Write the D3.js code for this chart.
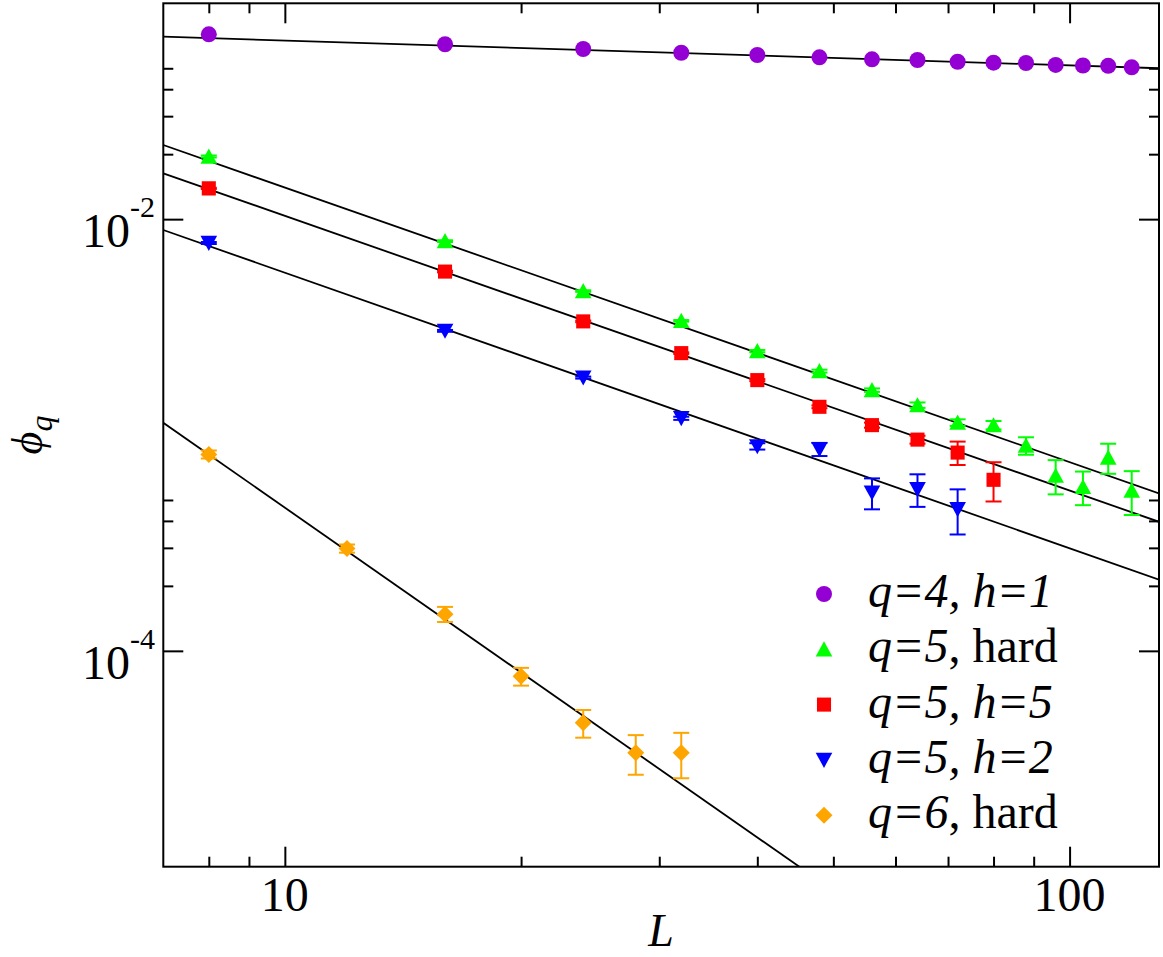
<!DOCTYPE html>
<html>
<head>
<meta charset="utf-8">
<script src="https://cdn.jsdelivr.net/npm/d3@7"></script>
<style>
  html, body { margin: 0; padding: 0; background: #fff; }
  svg { display: block; }
  text { font-family: "Liberation Serif", "Tinos", "DejaVu Serif", "Noto Serif", serif; fill: #000; }
</style>
</head>
<body>
<svg id="chart" width="1163" height="957"></svg>
<script>
// ---------------- data ----------------
const seriesNames = ["q4h1", "q5hard", "q5h5", "q5h2", "q6hard"];
const seriesColors = ["#9400d3", "#00ff00", "#ff0000", "#0000ff", "#ffa500"];
const seriesSymbols = ["circle", "triangleUp", "square", "triangleDown", "diamond"];

const L_q4h1 = [8, 16, 24, 32, 40, 48, 56, 64, 72, 80, 88, 96, 104, 112, 120];
const phi_q4h1 = [0.0718, 0.0646, 0.0614, 0.0590, 0.0576, 0.0562, 0.0550, 0.0546, 0.0536, 0.0531, 0.0529, 0.0518, 0.0515, 0.0513, 0.0505];
const err_q4h1 = [0, 0, 0, 0, 0, 0, 0, 0, 0, 0, 0, 0, 0, 0, 0];

const L_q5hard = [8, 16, 24, 32, 40, 48, 56, 64, 72, 80, 88, 96, 104, 112, 120];
const phi_q5hard = [0.01950, 0.007915, 0.004643, 0.003379, 0.002447, 0.001977, 0.001614, 0.001375, 0.001142, 0.001111, 0.000893, 0.000648, 0.000575, 0.000786, 0.000553];
const err_q5hard = [0.0002, 0.00008, 0.00004, 0.00003, 0.00003, 0.00003, 0.00003, 0.00004, 0.00004, 0.00005, 0.000083, 0.000117, 0.000102, 0.000125, 0.000127];

const L_q5h5 = [8, 16, 24, 32, 40, 48, 56, 64, 72, 80];
const phi_q5h5 = [0.01389, 0.005716, 0.003360, 0.002395, 0.001796, 0.001351, 0.001111, 0.000952, 0.000829, 0.000620];
const err_q5h5 = [0.0001, 0.00005, 0.00003, 0.00002, 0.00002, 0.00002, 0.00003, 0.00004, 0.000103, 0.000128];

const L_q5h2 = [8, 16, 24, 32, 40, 48, 56, 64, 72];
const phi_q5h2 = [0.007748, 0.003037, 0.001845, 0.001195, 0.000886, 0.000859, 0.000541, 0.000561, 0.000453];
const err_q5h2 = [0.00008, 0.00003, 0.00002, 0.00002, 0.00003, 0.00006, 0.0000885, 0.0000965, 0.000107];

const L_q6hard = [8, 12, 16, 20, 24, 28, 32];
const phi_q6hard = [0.000813, 0.000298, 0.0001479, 0.0000762, 0.0000464, 0.0000337, 0.0000337];
const err_q6hard = [0.000035, 0.000013, 0.0000119, 0.0000072, 0.0000068, 0.0000070, 0.0000080];

// power-law fits  phi = A * L^(-b)
const fitA = [0.0877, 0.2621, 0.1939, 0.1068, 0.1588];
const fitB = [0.1154, 1.2721, 1.2724, 1.2766, 2.5374];

// axes
const xDomain = [7, 130];
const yDomain = [1e-5, 1e-1];
const xMajorTicks = [10, 100];
const xMinorTicks = [8, 9, 20, 30, 40, 50, 60, 70, 80, 90];
const yMajorTicks = [1e-4, 1e-2];
const yMajorExp = ["-4", "-2"];
const yMinorTicks = [2e-4, 3e-4, 4e-4, 5e-4, 2e-2, 3e-2, 4e-2, 5e-2];

// legend labels: [text, italic?] parts
const legendLabels = [
  [["q=4, h=1", true]],
  [["q=5", true], [", hard", false]],
  [["q=5, h=5", true]],
  [["q=5, h=2", true]],
  [["q=6", true], [", hard", false]]
];

const allL = [L_q4h1, L_q5hard, L_q5h5, L_q5h2, L_q6hard];
const allPhi = [phi_q4h1, phi_q5hard, phi_q5h5, phi_q5h2, phi_q6hard];
const allErr = [err_q4h1, err_q5hard, err_q5h5, err_q5h2, err_q6hard];

// ---------------- layout ----------------
const plot = { left: 163.3, right: 1159, top: 3.3, bottom: 866.7 };
const svg = d3.select("#chart");

const x = d3.scaleLog().domain(xDomain).range([plot.left, plot.right]);
const y = d3.scaleLog().domain(yDomain).range([plot.bottom, plot.top]);

svg.append("defs").append("clipPath").attr("id", "clip")
  .append("rect").attr("x", plot.left).attr("y", plot.top)
  .attr("width", plot.right - plot.left).attr("height", plot.bottom - plot.top);

// symbol paths (centered at origin)
function symbolPath(type, s) {
  const p = d3.path();
  if (type === "circle") { p.arc(0, 0, s * 0.5, 0, 2 * Math.PI); }
  else if (type === "triangleUp") { p.moveTo(0, -s * 0.5); p.lineTo(s * 0.52, s * 0.45); p.lineTo(-s * 0.52, s * 0.45); p.closePath(); }
  else if (type === "triangleDown") { p.moveTo(0, s * 0.5); p.lineTo(s * 0.52, -s * 0.45); p.lineTo(-s * 0.52, -s * 0.45); p.closePath(); }
  else if (type === "square") { const h = s * 0.44; p.rect(-h, -h, 2 * h, 2 * h); }
  else if (type === "diamond") { const h = s * 0.53; p.moveTo(0, -h); p.lineTo(h, 0); p.lineTo(0, h); p.lineTo(-h, 0); p.closePath(); }
  return p.toString();
}
const symSize = 16;

// ---------------- fit lines ----------------
const fitG = svg.append("g").attr("clip-path", "url(#clip)");
const line = d3.line().x(d => x(d[0])).y(d => y(d[1]));
fitA.forEach((A, i) => {
  const b = fitB[i];
  const pts = x.domain().map(L => [L, A * Math.pow(L, -b)]);
  fitG.append("path").attr("d", line(pts))
    .attr("fill", "none").attr("stroke", "#000").attr("stroke-width", 1.8);
});

// ---------------- data ----------------
const dataG = svg.append("g").attr("clip-path", "url(#clip)");
allL.forEach((Ls, i) => {
  const col = seriesColors[i];
  const pts = Ls.map((L, j) => ({ L, v: allPhi[i][j], e: allErr[i][j] }));
  const g = dataG.append("g");
  // error bars
  pts.filter(d => d.e > 0).forEach(d => {
    const y1 = y(d.v + d.e), y2 = y(Math.max(d.v - d.e, 1e-9));
    const cx = x(d.L);
    g.append("line").attr("x1", cx).attr("x2", cx).attr("y1", y1).attr("y2", y2)
      .attr("stroke", col).attr("stroke-width", 2);
    [y1, y2].forEach(yy => g.append("line").attr("x1", cx - 8).attr("x2", cx + 8)
      .attr("y1", yy).attr("y2", yy).attr("stroke", col).attr("stroke-width", 2));
  });
  g.selectAll("path.m").data(pts).join("path").attr("class", "m")
    .attr("d", symbolPath(seriesSymbols[i], symSize))
    .attr("transform", d => `translate(${x(d.L)},${y(d.v)})`)
    .attr("fill", col);
});

// ---------------- axes ----------------
const axG = svg.append("g");
function addAxis(axisFn, scale, ticks, size, transform) {
  axG.append("g").attr("transform", transform)
    .call(axisFn(scale).tickValues(ticks).tickSize(size).tickFormat(""))
    .call(g => g.select(".domain").remove())
    .call(g => g.selectAll("line").attr("stroke", "#000").attr("stroke-width", 2));
}
addAxis(d3.axisBottom, x, xMajorTicks, -20, `translate(0,${plot.bottom})`);
addAxis(d3.axisBottom, x, xMinorTicks, -10, `translate(0,${plot.bottom})`);
addAxis(d3.axisTop, x, xMajorTicks, -20, `translate(0,${plot.top})`);
addAxis(d3.axisTop, x, xMinorTicks, -10, `translate(0,${plot.top})`);
addAxis(d3.axisLeft, y, yMajorTicks, -20, `translate(${plot.left},0)`);
addAxis(d3.axisLeft, y, yMinorTicks, -10, `translate(${plot.left},0)`);
addAxis(d3.axisRight, y, yMajorTicks, -20, `translate(${plot.right},0)`);
addAxis(d3.axisRight, y, yMinorTicks, -10, `translate(${plot.right},0)`);

axG.append("rect").attr("x", plot.left).attr("y", plot.top)
  .attr("width", plot.right - plot.left).attr("height", plot.bottom - plot.top)
  .attr("fill", "none").attr("stroke", "#000").attr("stroke-width", 2);

// x tick labels
axG.selectAll("text.xl").data(xMajorTicks).join("text").attr("class", "xl")
  .attr("x", d => x(d)).attr("y", 911).attr("text-anchor", "middle")
  .attr("font-size", 48).text(d => d3.format("d")(d));

// y tick labels with superscripts
yMajorTicks.forEach((v, i) => {
  const t = axG.append("text").attr("x", 155).attr("y", y(v) + 28)
    .attr("text-anchor", "end").attr("font-size", 48);
  t.append("tspan").text("10");
  t.append("tspan").attr("font-size", 30).attr("dy", -30).text(yMajorExp[i]);
});

// axis titles
svg.append("text").attr("x", (plot.left + plot.right) / 2).attr("y", 946)
  .attr("text-anchor", "middle").attr("font-size", 46).attr("font-style", "italic").text("L");

const yl = svg.append("text")
  .attr("transform", `translate(42,${(plot.top + plot.bottom) / 2}) rotate(-90)`)
  .attr("text-anchor", "middle").attr("font-style", "italic");
yl.append("tspan").attr("font-size", 44).text("\u03D5");
yl.append("tspan").attr("font-size", 32).attr("dy", 10).text("q");

// ---------------- legend ----------------
const legX = 824, legTextX = 868, legY0 = 594, legDy = 55.3;
const leg = svg.append("g");
seriesNames.forEach((n, i) => {
  const cy = legY0 + i * legDy;
  leg.append("path").attr("d", symbolPath(seriesSymbols[i], symSize))
    .attr("transform", `translate(${legX},${cy})`).attr("fill", seriesColors[i]);
  const t = leg.append("text").attr("x", legTextX).attr("y", cy + 13).attr("font-size", 48);
  legendLabels[i].forEach(([s, it]) => t.append("tspan").attr("font-style", it ? "italic" : "normal").text(s));
});
</script>
</body>
</html>
